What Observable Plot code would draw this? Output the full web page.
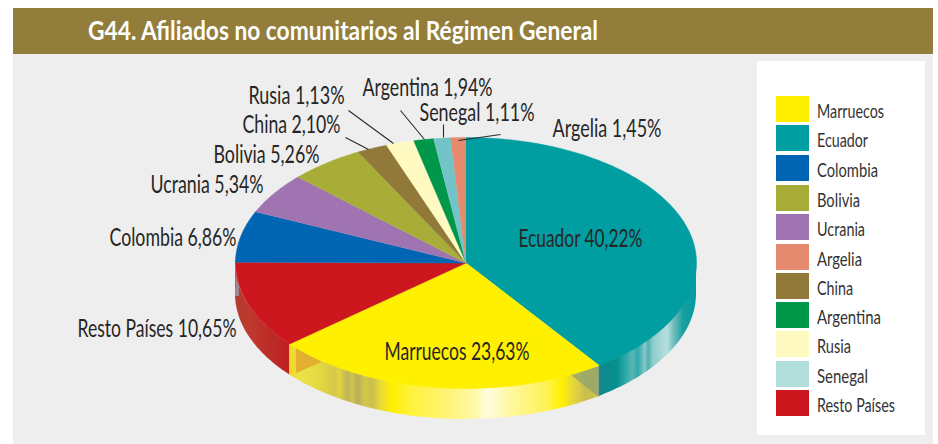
<!DOCTYPE html>
<html lang="es">
<head>
<meta charset="utf-8">
<script src="https://cdn.jsdelivr.net/npm/d3@7"></script>
<script src="https://cdn.jsdelivr.net/npm/@observablehq/plot@0.6"></script>
<style>
  html, body { margin: 0; padding: 0; background: #fff; width: 938px; height: 444px; overflow: hidden; }
  #page { position: relative; width: 938px; height: 444px; font-family: Lato, "Liberation Sans", sans-serif; }
  #panel { position: absolute; left: 13px; top: 54px; width: 920px; height: 390px; background: #eeeeee; }
  #band { position: absolute; left: 13px; top: 8px; width: 920px; height: 46px; background: #937d3a; }
  #title { position: absolute; left: 75px; top: 7px; color: #fff; font-weight: 700; font-size: 26px; line-height: 30px; white-space: nowrap; transform-origin: 0 50%; }
  #legend { position: absolute; left: 757px; top: 61px; width: 168px; height: 374px; background: #fff; }
  .sw { position: absolute; left: 19px; width: 33px; height: 26px; }
  .lg { position: absolute; left: 60px; font-size: 20px; line-height: 28px; color: #333; white-space: nowrap; transform-origin: 0 50%; }
  #chart { position: absolute; left: 0; top: 0; }
  #chart svg { background: transparent; overflow: visible; }
</style>
</head>
<body>
<div id="page">
  <div id="band"><span id="title"></span></div>
  <div id="panel"></div>
  <div id="legend"></div>
  <div id="chart"></div>
</div>
<script>
const titleText = "G44. Afiliados no comunitarios al Régimen General";
const titleWidth = 510;

// slices clockwise from twelve o'clock: the shares are the angles as drawn, the labels are as printed
const sliceNames  = ["Ecuador","Marruecos","Resto Países","Colombia","Ucrania","Bolivia","China","Rusia","Argentina","Senegal","Argelia"];
const sliceShares = [40.2, 23.65, 11.25, 6.6, 5.3, 5.25, 2.15, 1.96, 1.4, 1.18, 1.06];
const sliceLabels = ["40,22%","23,63%","10,65%","6,86%","5,34%","5,26%","2,10%","1,13%","1,94%","1,11%","1,45%"];
const sliceFills  = ["#009da1","#fff000","#cd171e","#0065b3","#9f74b1","#a8ad37","#917a39","#fff9c2","#00974a","#72c4c8","#e58a6f"];

// legend
const legendNames  = ["Marruecos","Ecuador","Colombia","Bolivia","Ucrania","Argelia","China","Argentina","Rusia","Senegal","Resto Países"];
const legendFills  = ["#fff000","#009da1","#0065b3","#a8ad37","#9f74b1","#e58a6f","#917a39","#00974a","#fff9c2","#b2dfdb","#cd171e"];
const legendTops   = [35, 64, 94, 124, 153, 183, 212, 241, 270, 300, 329];
const legendWidths = [67, 51, 61, 43, 48, 45, 36, 64, 34, 51, 78];

// label centre x, centre y and printed width, page pixels
const labelPlaces = {
  "Ecuador":[580,238,124],"Marruecos":[456.5,351,145],"Resto Países":[156.5,328,159],"Colombia":[172.5,237,127],
  "Ucrania":[206.5,184,113],"Bolivia":[266,154,106],"China":[291,124,98],"Rusia":[296,95,96],
  "Argentina":[427,87,130],"Senegal":[476.5,112,115],"Argelia":[606.5,128,109]
};
const leaderLines = [
  [345,137,368,149],[348,110,393,143],[400,110,424,139],[443,124,443,137],[500,134,458,140]
];

const PIE = {left: 235, right: 696, top: 137, bottom: 388, depth: 31};
const ux = px => (px - PIE.left) / ((PIE.right - PIE.left) / 2) - 1;
const uy = py => (py - PIE.top) / ((PIE.bottom - PIE.top) / 2) - 1;
const wallDepth = 2 * PIE.depth / (PIE.bottom - PIE.top);

const total = d3.sum(sliceShares);
const cum = Array.from(d3.cumsum(sliceShares), v => v / total);
const starts = [0, ...cum.slice(0, -1)];
const onRim = f => { const a = f * 2 * Math.PI; return {x: Math.sin(a), y: -Math.cos(a)}; };
const arcPts = (f0, f1) => {
  const n = Math.max(2, Math.ceil((f1 - f0) * 360));
  return d3.range(n + 1).map(i => onRim(f0 + (f1 - f0) * i / n));
};

const wedges = sliceNames.flatMap((name, i) =>
  [{x: 0, y: 0}, ...arcPts(starts[i], cum[i])].map(p => ({...p, name, fill: sliceFills[i]})));

// side wall: only the visible front half of the rim
const wallPts = (f0, f1) => arcPts(f0, f1).map(p => ({x: p.x, y1: p.y, y2: p.y + wallDepth}));
const fEcu = cum[0], fMar = cum[1];

const grads = {
  wallTeal: [[598,"#14868c"],[617,"#05908f"],[625,"#2aa8a8"],[632,"#58b5b5"],[638,"#2fa9a9"],[645,"#8cc8c8"],[648,"#4fb0b0"],[653,"#90cccc"],[667,"#b5e0de"],[673,"#78c0bf"],[683,"#1a9fa0"],[696,"#009b9e"]],
  wallYellow: [[289,"#f3d81a"],[300,"#ebe24a"],[320,"#e4d840"],[334,"#d6c94a"],[340,"#e0d440"],[347,"#bfb356"],[352,"#cfc34e"],[358,"#b9ae5a"],[365,"#d3c84a"],[372,"#c9bf4d"],[380,"#e6d83a"],[392,"#fff000"],[410,"#fff23a"],[450,"#fff47a"],[475,"#fff9a8"],[487,"#fffce0"],[510,"#fff8a0"],[545,"#fff25a"],[562,"#fff000"],[572,"#e8d838"],[580,"#d6ca4a"],[585,"#c9bf4d"],[598,"#d0c247"]],
  wallRed: [[235,"#b13b32"],[250,"#bd3a2e"],[262,"#c0302a"],[275,"#b92a26"],[289,"#c41f20"]]
};
const gradientDefs = () => {
  const ns = "http://www.w3.org/2000/svg";
  const defs = document.createElementNS(ns, "defs");
  for (const [id, stops] of Object.entries(grads)) {
    const g = document.createElementNS(ns, "linearGradient");
    g.setAttribute("id", id);
    g.setAttribute("gradientUnits", "userSpaceOnUse");
    g.setAttribute("x1", stops[0][0]); g.setAttribute("x2", stops[stops.length - 1][0]);
    g.setAttribute("y1", 0); g.setAttribute("y2", 0);
    const w = stops[stops.length - 1][0] - stops[0][0];
    for (const [x, c] of stops) {
      const s = document.createElementNS(ns, "stop");
      s.setAttribute("offset", (x - stops[0][0]) / w);
      s.setAttribute("stop-color", c);
      g.appendChild(s);
    }
    defs.appendChild(g);
  }
  return defs;
};

const wallArea = (pts, id) => Plot.areaY(pts, {x: "x", y1: "y1", y2: "y2", fill: `url(#${id})`, curve: "linear"});

// grey sliver at the far left of the wall
const clipY = uy(296);
const greyPts = arcPts(0.72, 0.76).filter(p => p.y < clipY)
  .map(p => ({x: p.x, y1: p.y, y2: Math.min(p.y + wallDepth, clipY)}));

// see-through triangles on the wall at the two Marruecos edges
const endMar = onRim(fMar), endEcu = onRim(fEcu);
const offs = (o, list) => list.map(([dx, dy]) => ({x: o.x + dx * 2 / (PIE.right - PIE.left), y: o.y + dy * 2 / (PIE.bottom - PIE.top)}));
const orangeTri = offs(endMar, [[6,4],[32,18],[6,29]]);
const greyTri = offs(endEcu, [[-30,8],[0,0],[0,32]]);

const labels = sliceNames.map((name, i) => ({
  x: ux(labelPlaces[name][0]), y: uy(labelPlaces[name][1]), text: `${name} ${sliceLabels[i]}`, width: labelPlaces[name][2]
}));
const leaders = leaderLines.map(([a, b, c, d]) => ({x1: ux(a), y1: uy(b), x2: ux(c), y2: uy(d)}));

const chart = Plot.plot({
  width: 938, height: 444,
  marginTop: 0, marginRight: 0, marginBottom: 0, marginLeft: 0,
  x: {domain: [-1, 1], range: [PIE.left, PIE.right], axis: null},
  y: {domain: [-1, 1], range: [PIE.top, PIE.bottom], axis: null},
  style: {background: "transparent", overflow: "visible"},
  marks: [
    gradientDefs,
    wallArea(wallPts(fMar, 0.75), "wallRed"),
    Plot.areaY(greyPts, {x: "x", y1: "y1", y2: "y2", fill: "#a5868c"}),
    wallArea(wallPts(fEcu, fMar), "wallYellow"),
    wallArea(wallPts(0.25, fEcu), "wallTeal"),
    Plot.line(orangeTri, {x: "x", y: "y", fill: "#e4ae2e", stroke: "none", curve: "linear"}),
    Plot.line(greyTri, {x: "x", y: "y", fill: "#7f9a7a", fillOpacity: 0.6, stroke: "none", curve: "linear"}),
    Plot.line(wedges, {x: "x", y: "y", z: "name", fill: "fill", stroke: "fill", strokeWidth: 0.5, curve: "linear"}),
    Plot.link(leaders, {x1: "x1", y1: "y1", x2: "x2", y2: "y2", stroke: "#2a2a2a", strokeWidth: 1.1}),
    Plot.text(labels, {x: "x", y: "y", text: "text", fontSize: 25, fill: "#262626", textAnchor: "middle", lineAnchor: "middle",
      fontFamily: 'Lato, "Liberation Sans", sans-serif'})
  ]
});
document.getElementById("chart").appendChild(chart);

// squeeze the printed labels to the condensed widths of the reference
const byText = new Map(labels.map(l => [l.text, l.width]));
chart.querySelectorAll("text").forEach(t => {
  const w = byText.get(t.textContent);
  if (w) { t.setAttribute("textLength", w); t.setAttribute("lengthAdjust", "spacingAndGlyphs"); }
});
const squeeze = (el, w) => { el.style.transform = `scaleX(${w / el.getBoundingClientRect().width})`; };

const title = document.getElementById("title");
title.textContent = titleText;
squeeze(title, titleWidth);
const lg = document.getElementById("legend");
legendNames.forEach((name, i) => {
  const s = document.createElement("div");
  s.className = "sw"; s.style.top = legendTops[i] + "px"; s.style.background = legendFills[i];
  const t = document.createElement("div");
  t.className = "lg"; t.style.top = legendTops[i] + "px"; t.textContent = name;
  lg.append(s, t);
  squeeze(t, legendWidths[i]);
});
</script>
</body>
</html>
